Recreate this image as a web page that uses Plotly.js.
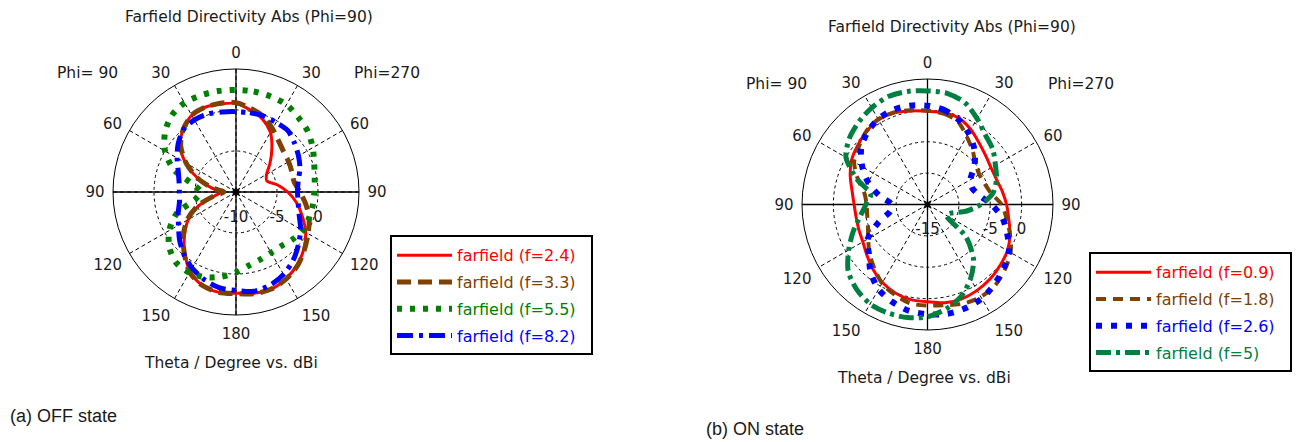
<!DOCTYPE html>
<html>
<head>
<meta charset="utf-8">
<script src="https://cdn.plot.ly/plotly-3.0.1.min.js"></script>
<style>
html,body{margin:0;padding:0;background:#fff;}
#chart{width:1299px;height:442px;}
</style>
</head>
<body>
<div id="chart"></div>
<script>
// ---------- data ----------
const thetaDeg = [0,10,20,30,40,50,60,70,80,90,100,110,120,130,140,150,160,170,180,
                  190,200,210,220,230,240,250,260,270,280,290,300,310,320,330,340,350,360];

// OFF state (dBi)
const offF24 = [0.8,0.15,-0.55,-1.6,-3.2,-4.6,-5.7,-6.0,-4.9,-3.7,-2.5,-1.4,-0.2,0.8,1.6,2.2,2.6,2.55,2.35,
                2.4,2.1,1.2,-0.3,-1.8,-3.3,-5.2,-7.4,-8.2,-6.9,-5.0,-2.9,-1.1,0.0,0.8,1.0,0.9,0.8];
const offF33 = [0.9,0.35,-0.2,-1.1,-1.9,-2.4,-2.6,-2.75,-2.8,-2.2,-1.35,-0.5,0.15,0.9,1.7,2.25,2.6,2.6,2.4,
                2.4,2.1,1.3,-0.2,-1.6,-3.1,-5.0,-7.3,-8.5,-7.0,-5.0,-3.0,-1.2,0.0,0.8,1.0,1.0,0.9];
const offF55 = [2.45,2.45,2.4,2.3,1.85,1.45,0.8,0.15,-0.25,-0.45,-0.5,-0.55,-0.65,-1.0,-1.4,-1.45,-1.25,-0.9,-0.2,
                0.5,1.05,1.35,1.3,0.6,-0.6,-2.3,-5.0,-5.7,-4.7,-1.9,0.0,1.3,2.2,2.55,2.55,2.5,2.45];
const offF82 = [-0.2,-0.2,-0.15,-0.2,-0.2,-0.7,-1.2,-1.7,-2.3,-2.5,-2.3,-1.8,-0.9,-0.05,0.85,1.6,2.1,2.3,2.0,
                1.85,1.35,0.7,-0.1,-1.0,-1.9,-2.5,-3.0,-3.1,-2.95,-2.5,-1.7,-0.8,-0.05,0.15,0.1,-0.1,-0.2];

// ON state (dBi)
const onF09 = [-0.15,-0.15,-0.35,-1.2,-2.2,-2.9,-3.3,-3.3,-2.9,-2.4,-1.85,-1.0,-0.3,0.1,0.5,0.8,1.0,0.9,0.5,
               0.4,0.0,-0.65,-1.5,-2.4,-3.1,-3.35,-3.45,-3.3,-2.8,-1.9,-1.0,-0.45,0.15,0.6,0.55,0.15,-0.15];
const onF18 = [-0.05,-0.3,-0.9,-2.5,-3.8,-5.0,-5.45,-5.3,-4.7,-3.2,-2.2,-1.0,0.3,1.1,1.8,2.0,1.8,1.3,1.1,
               1.0,0.3,-0.5,-1.8,-2.9,-4.1,-4.9,-5.25,-5.3,-4.8,-3.2,-1.5,-0.7,0.2,0.7,0.6,0.25,-0.05];
const onF26 = [0.75,0.3,-0.6,-1.9,-3.4,-5.2,-7.1,-7.4,-6.6,-4.8,-2.9,-1.5,0.0,0.85,1.6,2.3,2.6,2.7,2.5,
               2.2,1.5,0.6,-0.9,-2.8,-4.0,-6.7,-9.0,-9.3,-7.3,-5.0,-3.0,-1.2,-0.05,0.7,1.05,1.0,0.75];
const onF5  = [3.1,3.0,2.3,0.8,-0.6,-1.4,-2.5,-3.3,-4.4,-6.5,-8.8,-11.0,-11.5,-7.0,-3.6,-1.3,0.6,1.9,2.9,
               3.3,3.4,3.3,2.6,1.5,-0.5,-2.4,-4.1,-5.2,-5.8,-3.0,0.0,1.3,2.1,2.8,3.3,3.3,3.1];

// axes
const angleTicks = [0,30,60,90,120,150,180,210,240,270,300,330];
const angleTickText = ['0','30','60','90','120','150','180','150','120','90','60','30'];
const offRange = [-10,5];
const offTicks = [-10,-5,0];
const offTickText = ['-10','-5','0'];
const onRange = [-15,5];
const onTicks = [-15,-10,-5,0];
const onTickText = ['-15','','-5','0'];

const offNames = ['farfield (f=2.4)','farfield (f=3.3)','farfield (f=5.5)','farfield (f=8.2)'];
const onNames  = ['farfield (f=0.9)','farfield (f=1.8)','farfield (f=2.6)','farfield (f=5)'];

// ---------- styling ----------
const FONT = 'DejaVu Sans, Verdana, sans-serif';
const TXT = '#1a1a1a';

function curve(values, name, color, dash, width, subplot, legend) {
  return {
    type: 'scatterpolar', mode: 'lines', subplot: subplot, legend: legend,
    legendgroup: subplot + name,
    r: values, theta: thetaDeg,
    name: '<span style="color:' + color + '">' + name + '</span>\u00a0\u00a0',
    line: {color: color, width: width, dash: dash, shape: 'spline', smoothing: 0.8},
    hoverinfo: 'skip'
  };
}
function cross(range, subplot) {
  return {
    type: 'scatterpolar', mode: 'lines', subplot: subplot, showlegend: false,
    r: [range[1], range[0], range[1], null, range[1], range[0], range[1]],
    theta: [angleTicks[0], angleTicks[0], angleTicks[6], null, angleTicks[3], angleTicks[3], angleTicks[9]],
    line: {color: 'black', width: 1.3}, hoverinfo: 'skip'
  };
}
function centre(range, subplot) {
  return {
    type: 'scatterpolar', mode: 'markers', subplot: subplot, showlegend: false,
    r: [range[0]], theta: [0],
    marker: {symbol: 'asterisk-open', size: 9, color: 'black', line: {color: 'black', width: 1.2}},
    hoverinfo: 'skip'
  };
}

const data = [
  cross(offRange, 'polar'),
  curve(offF24, offNames[0], '#ff0000', 'solid', 3, 'polar', 'legend'),
  curve(offF33, offNames[1], '#804000', '14px,7px', 5, 'polar', 'legend'),
  curve(offF55, offNames[2], '#008000', '5px,8px', 6, 'polar', 'legend'),
  curve(offF82, offNames[3], '#0000ff', '16px,6px,4px,6px', 5, 'polar', 'legend'),
  centre(offRange, 'polar'),

  cross(onRange, 'polar2'),
  curve(onF09, onNames[0], '#ff0000', 'solid', 3, 'polar2', 'legend2'),
  curve(onF18, onNames[1], '#804000', '10px,7px', 4, 'polar2', 'legend2'),
  curve(onF26, onNames[2], '#0000ff', '6px,9px', 6, 'polar2', 'legend2'),
  curve(onF5,  onNames[3], '#008040', '15px,5px,4px,5px', 5, 'polar2', 'legend2'),
  centre(onRange, 'polar2')
];

function polarLayout(dx, dy, range, ticks, tickText) {
  return {
    domain: {x: dx, y: dy},
    bgcolor: 'rgba(0,0,0,0)',
    angularaxis: {
      rotation: 90, direction: 'clockwise',
      tickmode: 'array', tickvals: angleTicks, ticktext: angleTickText,
      showline: true, linecolor: 'black', linewidth: 1,
      showgrid: true, gridcolor: 'black', gridwidth: 1, griddash: '4px,3px',
      ticks: 'outside', ticklen: 5, tickcolor: 'rgba(0,0,0,0)',
      tickfont: {family: FONT, size: 15, color: TXT},
      layer: 'below traces'
    },
    radialaxis: {
      range: range, tickmode: 'array', tickvals: ticks, ticktext: tickText,
      angle: 0, side: 'clockwise', tickangle: 0,
      showline: false, ticks: 'outside', ticklen: 11, tickcolor: 'rgba(0,0,0,0)',
      showgrid: true, gridcolor: 'black', gridwidth: 1, griddash: '3px,3px',
      tickfont: {family: FONT, size: 15, color: TXT},
      layer: 'below traces'
    }
  };
}

const W = 1299, H = 442;
function px(x) { return x / W; }
function py(y) { return 1 - y / H; }
function label(text, x, y, size, family, anchor) {
  return {text: text, xref: 'paper', yref: 'paper', x: px(x), y: py(y),
          xanchor: anchor || 'center', yanchor: 'middle', showarrow: false,
          font: {family: family || FONT, size: size || 15.5, color: TXT}};
}

const legendBase = {
  xanchor: 'left', yanchor: 'top', bgcolor: 'white', bordercolor: 'black', borderwidth: 2,
  font: {family: FONT, size: 16, color: TXT}, itemwidth: 55, tracegroupgap: 3,
  title: {text: '\u00a0', font: {family: FONT, size: 1, color: 'white'}},
  itemclick: false, itemdoubleclick: false
};

const layout = {
  width: W, height: H,
  margin: {l: 0, r: 0, t: 0, b: 0},
  paper_bgcolor: 'white',
  showlegend: true,
  polar: polarLayout([px(113), px(359)], [py(315), py(69)], offRange, offTicks, offTickText),
  polar2: polarLayout([px(802), px(1053)], [py(330), py(79)], onRange, onTicks, onTickText),
  legend: Object.assign({}, legendBase, {x: px(390), y: py(235)}),
  legend2: Object.assign({}, legendBase, {x: px(1089), y: py(252)}),
  annotations: [
    label('Farfield Directivity Abs (Phi=90)', 249, 17),
    label('Phi= 90', 87, 73),
    label('Phi=270', 387, 73),
    label('Theta / Degree vs. dBi', 231, 363),
    label('(a) OFF state', 8, 416, 18, 'Liberation Sans, Arial, sans-serif', 'left'),

    label('Farfield Directivity Abs (Phi=90)', 952, 27),
    label('Phi= 90', 776, 84),
    label('Phi=270', 1081, 84),
    label('Theta / Degree vs. dBi', 924, 378),
    label('(b) ON state', 704, 429, 18, 'Liberation Sans, Arial, sans-serif', 'left')
  ]
};

Plotly.newPlot('chart', data, layout, {staticPlot: true, displayModeBar: false});
</script>
</body>
</html>
